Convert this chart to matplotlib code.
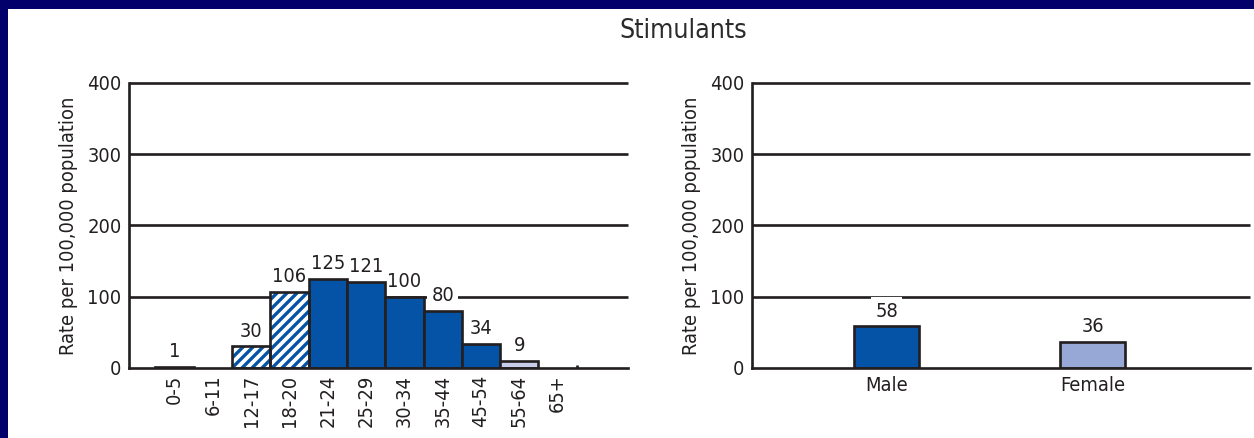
import matplotlib
matplotlib.use("Agg")
import matplotlib.pyplot as plt
from matplotlib import font_manager
from matplotlib.patches import Rectangle

# ---- data -------------------------------------------------------------
age_groups = ['0-5', '6-11', '12-17', '18-20', '21-24', '25-29',
              '30-34', '35-44', '45-54', '55-64', '65+']
age_rates = [1, None, 30, 106, 125, 121, 100, 80, 34, 9, None]

sexes = ['Male', 'Female']
sex_rates = [58, 36]

y_ticks = [0, 100, 200, 300, 400]
y_label = 'Rate per 100,000 population'
title = 'Stimulants'

# ---- styling ----------------------------------------------------------
DPI = 120
W, H = 1254, 438
INK = '#231F20'
BLUE = '#0553A6'
LIGHT = '#C9CDEB'
FEMALE = '#98A8D6'
NAVY = '#02006A'
LW = 1.6          # points
FS = 12           # points

hatched_groups = {'12-17', '18-20'}
light_groups = {'55-64'}
sex_colors = {'Male': BLUE, 'Female': FEMALE}

names = {f.name for f in font_manager.fontManager.ttflist}
if 'Liberation Sans Narrow' in names:
    plt.rcParams['font.family'] = ['Liberation Sans Narrow', 'DejaVu Sans']
    FS = 13
else:
    plt.rcParams['font.family'] = ['DejaVu Sans']
    plt.rcParams['font.stretch'] = 'condensed'
plt.rcParams['hatch.linewidth'] = 2.0

fig = plt.figure(figsize=(W / DPI, H / DPI), dpi=DPI, facecolor='white')

# navy frame along the top and left edges
fig.patches.append(Rectangle((0, 1 - 9 / H), 1, 9 / H, transform=fig.transFigure,
                             facecolor=NAVY, edgecolor='none', zorder=10))
fig.patches.append(Rectangle((0, 0), 8 / W, 1, transform=fig.transFigure,
                             facecolor=NAVY, edgecolor='none', zorder=10))

base_y = 367.7
top_y = 83.0
ax_bottom = (H - base_y) / H
ax_height = (base_y - top_y) / H
ax1 = fig.add_axes([129 / W, ax_bottom, 498.7 / W, ax_height])
ax2 = fig.add_axes([752 / W, ax_bottom, 498.0 / W, ax_height])


def style_axes(ax, xlim):
    ax.set_xlim(*xlim)
    ax.set_ylim(0, 400)
    ax.set_yticks(y_ticks)
    ax.set_facecolor('white')
    for s in ('top', 'right'):
        ax.spines[s].set_visible(False)
    for s in ('left', 'bottom'):
        ax.spines[s].set_linewidth(LW)
        ax.spines[s].set_color(INK)
        ax.spines[s].set_zorder(3)
    ax.tick_params(axis='both', which='major', length=0, labelsize=FS,
                   labelcolor=INK)
    ax.tick_params(axis='y', pad=4.5)
    for y in y_ticks[1:]:
        ax.axhline(y, color=INK, lw=LW, zorder=0.5, clip_on=False,
                   solid_capstyle='butt')
    ax.set_ylabel(y_label, fontsize=FS, color=INK)
    ax.yaxis.set_label_coords(-0.103, 0.5)


def value_label(ax, x, v):
    ax.annotate(str(v), (x, v), xytext=(0, 3.5), textcoords='offset points',
                ha='center', va='bottom', fontsize=FS, color=INK, zorder=1.5,
                bbox=dict(boxstyle='square,pad=0.22', fc='white', ec='none'))


# ---- left panel: rate by age group ------------------------------------
style_axes(ax1, (-1.19, 11.83))
for i, (g, v) in enumerate(zip(age_groups, age_rates)):
    if v is None:
        continue
    if g in hatched_groups:
        ax1.bar(i, v, width=1.0, color='white', edgecolor=BLUE, hatch='////',
                linewidth=0, zorder=2)
        ax1.bar(i, v, width=1.0, fill=False, edgecolor=INK, linewidth=LW,
                zorder=2.1)
    else:
        c = LIGHT if g in light_groups else BLUE
        ax1.bar(i, v, width=1.0, color=c, edgecolor=INK, linewidth=LW,
                zorder=2)
    value_label(ax1, i, v)

ax1.set_xticks(range(len(age_groups)), age_groups, rotation=90)
ax1.tick_params(axis='x', pad=4.2)
ax1.set_xticks([len(age_groups) - 0.5], minor=True)
ax1.tick_params(axis='x', which='minor', direction='in', length=1.8,
                width=LW, color=INK)

# ---- right panel: rate by sex -----------------------------------------
style_axes(ax2, (-0.654, 1.764))
for i, (s, v) in enumerate(zip(sexes, sex_rates)):
    ax2.bar(i, v, width=0.315, color=sex_colors[s], edgecolor=INK,
            linewidth=LW, zorder=2)
    value_label(ax2, i, v)
ax2.set_xticks(range(len(sexes)), sexes)
ax2.tick_params(axis='x', pad=5)

fig.text(683 / W, 1 - 31 / H, title, ha='center', va='center', fontsize=16,
         color='#2B2B2B')

fig.savefig('out.png', dpi=DPI, facecolor='white')
